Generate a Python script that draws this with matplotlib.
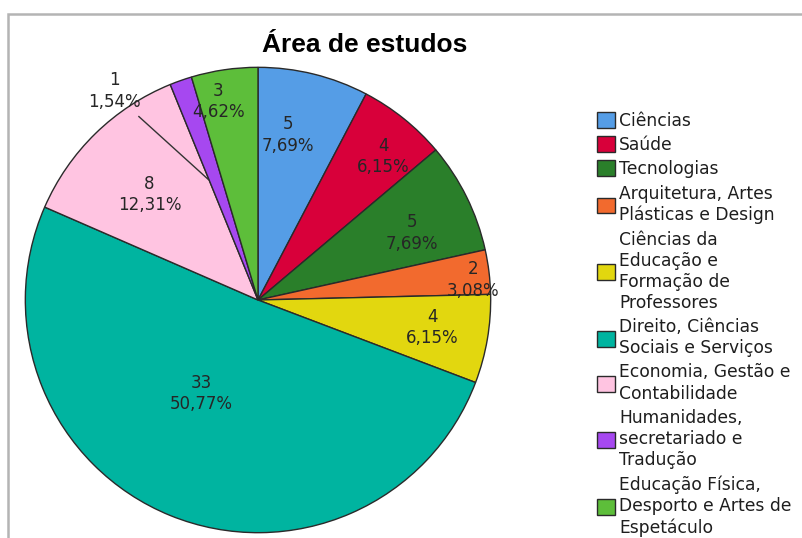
#!/usr/bin/env python3
"""Pie chart: Área de estudos (SPSS-style)."""

import numpy as np
import matplotlib.pyplot as plt
from matplotlib.patches import Rectangle

categories = [
    "Ciências",
    "Saúde",
    "Tecnologias",
    "Arquitetura, Artes\nPlásticas e Design",
    "Ciências da\nEducação e\nFormação de\nProfessores",
    "Direito, Ciências\nSociais e Serviços",
    "Economia, Gestão e\nContabilidade",
    "Humanidades,\nsecretariado e\nTradução",
    "Educação Física,\nDesporto e Artes de\nEspetáculo",
]
counts = [5, 4, 5, 2, 4, 33, 8, 1, 3]
percent_labels = ["7,69%", "6,15%", "7,69%", "3,08%", "6,15%",
                  "50,77%", "12,31%", "1,54%", "4,62%"]

colors = ["#559DE6", "#D8003A", "#2A7F2A", "#F26A2E", "#E2D70F",
          "#00B4A0", "#FFC4E1", "#A648F0", "#5DBE3A"]

# label placement (radius fraction, angle in degrees) - tuned to the reference
label_r = [0.72, 0.82, 0.72, 0.93, 0.76, 0.47, 0.65, 1.09, 0.87]
label_ang = [79.8, 48.8, 23.5, 5.3, -9.0, -121.4, 135.8, 124.5, 101.3]

W, H = 802, 538
plt.rcParams["font.family"] = ["DejaVu Sans"]

fig = plt.figure(figsize=(W / 100, H / 100), dpi=100)
fig.patch.set_facecolor("white")

# grey frame (only top and left edges fall inside the image)
fig.add_artist(Rectangle((7.5 / W, -0.2), 1.2, 1.2 - 13.5 / H,
                         transform=fig.transFigure, fill=False,
                         edgecolor="#B4B4B4", linewidth=1.8))

cx, cy, R = 258, 300, 235
ax = fig.add_axes([(cx - R) / W, (H - cy - R) / H, 2 * R / W, 2 * R / H])
ax.axis("off")

wedges, _ = ax.pie(
    counts,
    colors=colors,
    startangle=90,
    counterclock=False,
    radius=1,
    wedgeprops={"linewidth": 1.0, "edgecolor": "#2A2A2A"},
)
ax.set_xlim(-1.01, 1.01)
ax.set_ylim(-1.01, 1.01)

for i, (n, pct) in enumerate(zip(counts, percent_labels)):
    a = np.deg2rad(label_ang[i])
    x, y = label_r[i] * np.cos(a), label_r[i] * np.sin(a)
    ax.text(x, y, f"{n}\n{pct}", ha="center", va="center", fontsize=12,
            color="#262626", linespacing=1.25)

# leader line for the small slice
w = wedges[7]
mid = np.deg2rad((w.theta1 + w.theta2) / 2 + 3)
a = np.deg2rad(label_ang[7] - 1.5)
ax.plot([0.94 * np.cos(a), 0.56 * np.cos(mid)],
        [0.94 * np.sin(a), 0.56 * np.sin(mid)],
        color="#333333", linewidth=1.0)

fig.text(365 / W, 1 - 45 / H, "Área de estudos", ha="center", va="center",
         fontsize=19, fontweight="bold", family="Liberation Sans")

leg = fig.legend(
    wedges,
    categories,
    loc="upper left",
    bbox_to_anchor=(588 / W, 1 - 103 / H),
    frameon=False,
    borderpad=0,
    fontsize=12.3,
    handlelength=1.1,
    handleheight=1.05,
    handletextpad=0.22,
    labelspacing=0.37,
)
for t in leg.get_texts():
    t.set_linespacing(1.22)
    t.set_color("#1E1E1E")

fig.savefig("out.png", dpi=100)
